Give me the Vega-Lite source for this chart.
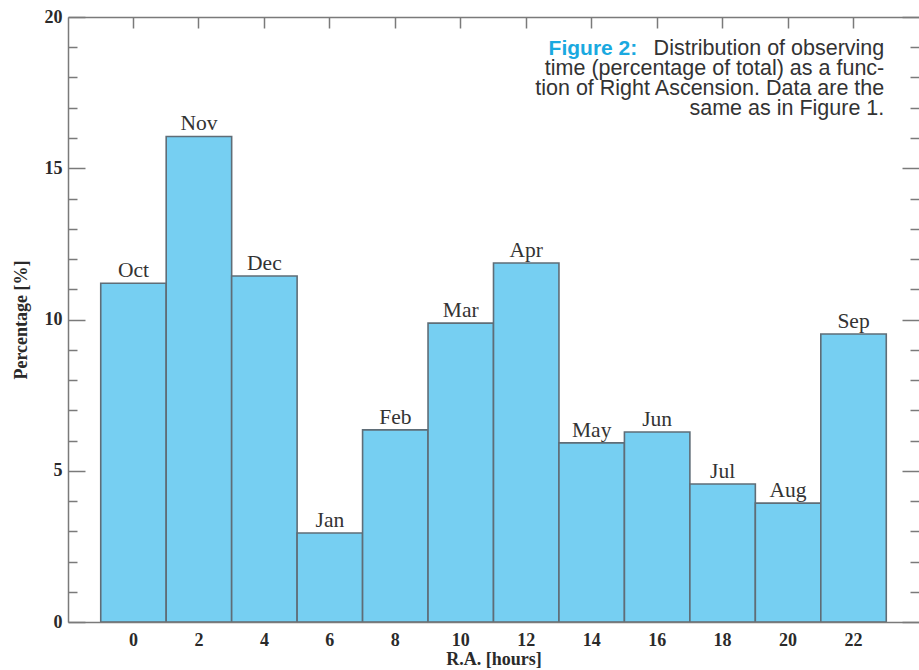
{
  "$schema": "https://vega.github.io/schema/vega-lite/v6.json",
  "width": 851,
  "height": 605,
  "autosize": {"type": "none"},
  "padding": {"left": 68, "top": 17, "right": 0, "bottom": 48},
  "background": "#ffffff",
  "config": {
    "view": {"stroke": null},
    "axis": {
      "domainColor": "#7a7a7a",
      "domainWidth": 1.5,
      "tickColor": "#7a7a7a",
      "tickWidth": 1.5,
      "labelFont": "Liberation Serif",
      "labelFontWeight": "bold",
      "labelFontSize": 18,
      "labelColor": "#2a2a2a",
      "titleFont": "Liberation Serif",
      "titleFontWeight": "bold",
      "titleFontSize": 18,
      "titleColor": "#2a2a2a",
      "grid": false
    }
  },
  "data": {
    "values": [
      {"month": "Oct", "ra": 0, "pct": 11.2},
      {"month": "Nov", "ra": 2, "pct": 16.05},
      {"month": "Dec", "ra": 4, "pct": 11.44},
      {"month": "Jan", "ra": 6, "pct": 2.94},
      {"month": "Feb", "ra": 8, "pct": 6.35},
      {"month": "Mar", "ra": 10, "pct": 9.88},
      {"month": "Apr", "ra": 12, "pct": 11.87},
      {"month": "May", "ra": 14, "pct": 5.92},
      {"month": "Jun", "ra": 16, "pct": 6.28},
      {"month": "Jul", "ra": 18, "pct": 4.56},
      {"month": "Aug", "ra": 20, "pct": 3.93},
      {"month": "Sep", "ra": 22, "pct": 9.52}
    ]
  },
  "resolve": {"axis": {"x": "independent", "y": "independent"}},
  "layer": [
    {
      "mark": {"type": "bar", "fill": "#76cff2", "stroke": "#5f6d77", "strokeWidth": 1.6, "width": {"band": 1}},
      "encoding": {
        "x": {
          "field": "ra", "type": "ordinal",
          "scale": {"paddingInner": 0, "paddingOuter": 0.5},
          "axis": {"orient": "bottom", "title": "R.A. [hours]", "labelAngle": 0, "ticks": false, "labelPadding": 9, "titlePadding": 1, "zindex": 1}
        },
        "y": {
          "field": "pct", "type": "quantitative",
          "scale": {"domain": [0, 20], "nice": false},
          "axis": {
            "orient": "left",
            "title": "Percentage [%]",
            "values": [0,1,2,3,4,5,6,7,8,9,10,11,12,13,14,15,16,17,18,19,20],
            "labelExpr": "datum.value % 5 === 0 ? datum.label : ''",
            "tickSize": {"expr": "datum.value % 5 === 0 ? -17 : -9"},
            "labelPadding": 23,
            "titlePadding": 14,
            "zindex": 1
          }
        }
      }
    },
    {
      "mark": {"type": "text", "font": "Liberation Serif", "fontSize": 21.5, "color": "#333333", "baseline": "bottom", "dy": -1},
      "encoding": {
        "x": {
          "field": "ra", "type": "ordinal",
          "axis": {"orient": "top", "title": null, "labels": false, "tickSize": -11, "zindex": 1}
        },
        "y": {
          "field": "pct", "type": "quantitative",
          "axis": {
            "orient": "right",
            "title": null,
            "labels": false,
            "values": [0,1,2,3,4,5,6,7,8,9,10,11,12,13,14,15,16,17,18,19,20],
            "tickSize": {"expr": "datum.value % 5 === 0 ? -17 : -9"},
            "domain": false,
            "zindex": 1
          }
        },
        "text": {"field": "month"}
      }
    },
    {
      "data": {"values": [{"caption": "Figure 2:"}]},
      "mark": {"type": "text", "font": "Liberation Sans", "fontWeight": "bold", "fontSize": 21, "color": "#1aa9e0", "align": "right", "baseline": "top", "dx": -249, "dy": 0},
      "encoding": {
        "x": {"datum": 22, "type": "ordinal", "bandPosition": 1, "axis": null},
        "y": {"datum": 19.3, "type": "quantitative", "axis": null},
        "text": {"field": "caption"}
      }
    },
    {
      "data": {"values": [{"caption": "Distribution of observing"}]},
      "mark": {"type": "text", "font": "Liberation Sans", "fontSize": 21.5, "color": "#333333", "align": "right", "baseline": "top", "lineHeight": 19.8, "dx": -2, "dy": 0,
        "text": ["Distribution of observing", "time (percentage of total) as a func-", "tion of Right Ascension. Data are the", "same as in Figure 1."]},
      "encoding": {
        "x": {"datum": 22, "type": "ordinal", "bandPosition": 1, "axis": null},
        "y": {"datum": 19.3, "type": "quantitative", "axis": null}
      }
    }
  ]
}
